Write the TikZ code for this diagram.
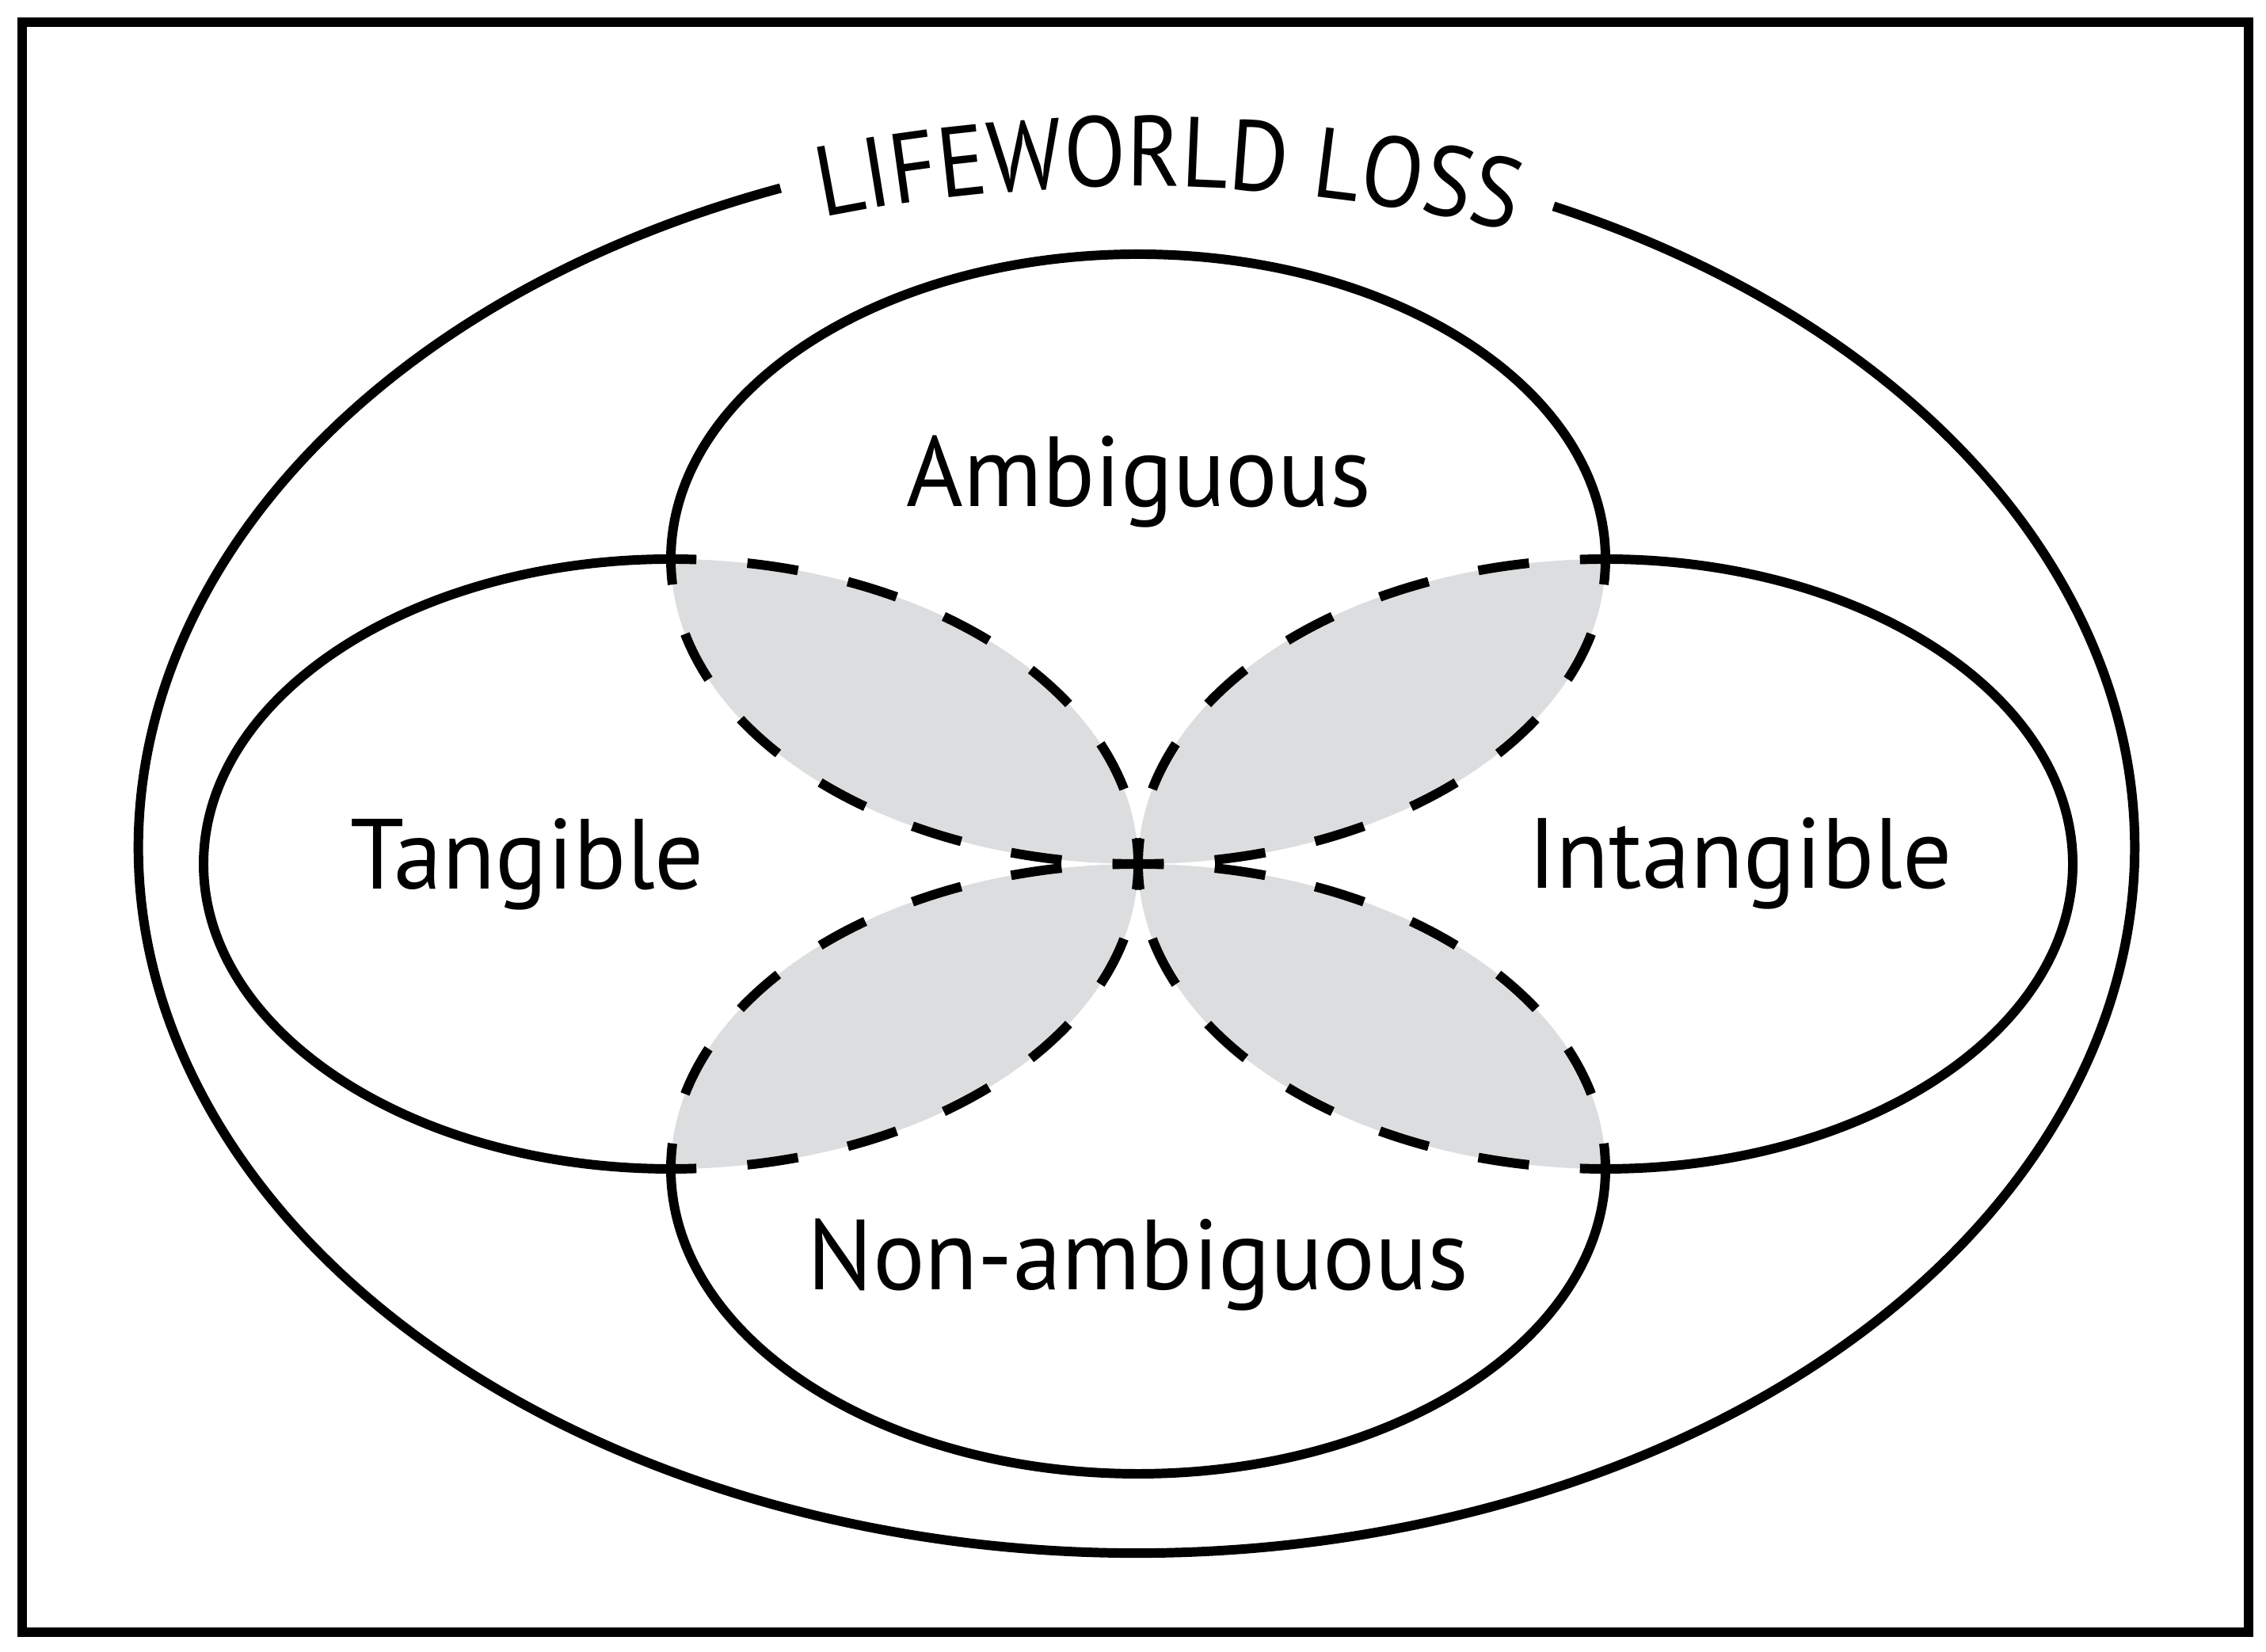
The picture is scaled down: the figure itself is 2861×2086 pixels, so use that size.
\documentclass[tikz,border=0pt]{standalone}
\usepackage{fontspec}
\setmainfont{PT Sans}
\newfontfamily\labelfam[FakeStretch=0.975]{PT Sans}
\newfontfamily\titlefam[FakeStretch=0.91]{PT Sans}
\usetikzlibrary{decorations.text}
\definecolor{petal}{RGB}{220,221,222}
\newcommand{\lblfont}{\labelfam\fontsize{35.8pt}{40pt}\selectfont}
\newcommand{\ttlfont}{\titlefam\fontsize{35.8pt}{40pt}\selectfont}
\begin{document}
\begin{tikzpicture}[x=0.01cm,y=0.01cm,
  solidline/.style={line width=3.4pt},
  dashline/.style={line width=3.4pt, dash pattern=on 18.35pt off 18.35pt, dash phase=9.18pt},
  lbl/.style={font=\lblfont, anchor=base, inner sep=0pt}]
\useasboundingbox (0,0) rectangle (2861,2086);
\fill[white] (0,0) rectangle (2861,2086);
\draw[solidline] (28,25) rectangle (2839,2058);

% petals (intersections)
\begin{scope}
  \clip (1437,1380) ellipse [x radius=590, y radius=385];
  \fill[petal] (847,995) ellipse [x radius=590, y radius=385];
  \fill[petal] (2027,995) ellipse [x radius=590, y radius=385];
\end{scope}
\begin{scope}
  \clip (1437,610) ellipse [x radius=590, y radius=385];
  \fill[petal] (847,995) ellipse [x radius=590, y radius=385];
  \fill[petal] (2027,995) ellipse [x radius=590, y radius=385];
\end{scope}

% solid halves
\draw[solidline] (847,1380) arc[start angle=180, end angle=0, x radius=590, y radius=385];
\draw[solidline] (847,610) arc[start angle=180, end angle=360, x radius=590, y radius=385];
\draw[solidline] (847,1380) arc[start angle=90, end angle=270, x radius=590, y radius=385];
\draw[solidline] (2027,610) arc[start angle=-90, end angle=90, x radius=590, y radius=385];

% dashed quarters
\draw[dashline] (847,1380) arc[start angle=180, end angle=270, x radius=590, y radius=385];
\draw[dashline] (2027,1380) arc[start angle=0, end angle=-90, x radius=590, y radius=385];
\draw[dashline] (847,610) arc[start angle=180, end angle=90, x radius=590, y radius=385];
\draw[dashline] (2027,610) arc[start angle=0, end angle=90, x radius=590, y radius=385];
\draw[dashline] (847,1380) arc[start angle=90, end angle=0, x radius=590, y radius=385];
\draw[dashline] (847,610) arc[start angle=270, end angle=360, x radius=590, y radius=385];
\draw[dashline] (2027,1380) arc[start angle=90, end angle=180, x radius=590, y radius=385];
\draw[dashline] (2027,610) arc[start angle=270, end angle=180, x radius=590, y radius=385];

% outer ellipse with gap for the title
\draw[solidline] (985.5,1848.4) arc[start angle=110.9, end angle=425.3, x radius=1260, y radius=891];

% curved title
\path[decorate, decoration={text along path, text align=center,
  text={|\ttlfont|LIFEWORLD LOSS}}]
  (622,1679) arc[start angle=113.86, end angle=63.86, radius=2010];

% labels
\node[lbl] (amb) at (1438,1446) {Ambiguous};
\node[lbl] (tang) at (666,963) {Tangible};
\node[lbl] (intang) at (2197,964) {Intangible};
\node[lbl] (nonamb) at (1437,457) {Non-ambiguous};
\end{tikzpicture}
\end{document}
